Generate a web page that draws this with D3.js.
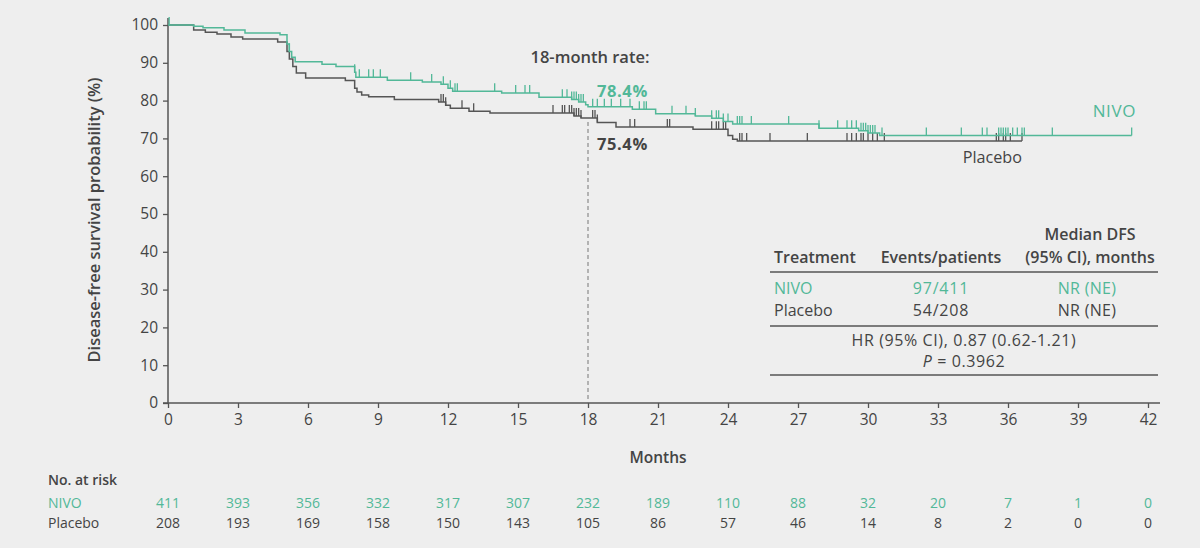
<!DOCTYPE html>
<html>
<head>
<meta charset="utf-8">
<script src="https://cdn.jsdelivr.net/npm/d3@7"></script>
<style>
  html, body { margin: 0; padding: 0; background: #eeeeee; }
  svg { display: block; font-family: "Open Sans", "DejaVu Sans", sans-serif; }
</style>
</head>
<body>
<svg id="chart" width="1200" height="548"></svg>
<script>
// ---------- data ----------
const xTicks = [0, 3, 6, 9, 12, 15, 18, 21, 24, 27, 30, 33, 36, 39, 42];
const yTicks = [0, 10, 20, 30, 40, 50, 60, 70, 80, 90, 100];

const nivoTimes = [0, 1.1, 1.5, 2.4, 3.3, 4.8, 5.1, 5.2, 5.3, 5.45, 6.6, 7.2, 8.0, 8.05, 9.4, 10.9, 11.7, 12.0, 12.2, 14.3, 15.9, 17.3, 17.6, 17.9, 18.0, 19.9, 20.9, 22.6, 23.3, 23.8, 24.2, 27.9, 29.6, 30.0, 30.5];
const nivoSurv  = [100, 99.7, 99.3, 98.7, 97.9, 97.4, 95, 93, 91.5, 90.3, 89.6, 89.0, 87.5, 86.2, 85.4, 84.9, 84.3, 83.3, 82.5, 82.0, 80.9, 80.3, 79.6, 78.9, 78.4, 77.7, 76.5, 75.9, 75.3, 74.5, 73.8, 72.7, 72.0, 71.4, 70.8];
const nivoEnd = 41.3;
const nivoCensor = [0.05, 5.2, 8.0, 8.2, 8.6, 8.8, 9.1, 10.4, 11.3, 11.8, 12.1, 12.3, 12.4, 14.0, 14.9, 15.3, 15.5, 16.9, 17.1, 17.3, 17.4, 17.5, 17.6, 17.7, 17.8, 18.2, 18.4, 18.7, 19.0, 19.4, 19.8, 20.2, 20.4, 20.5, 21.6, 22.2, 22.6, 23.3, 23.5, 23.6, 23.8, 24.0, 24.4, 24.5, 24.6, 25.0, 26.6, 27.9, 28.7, 29.1, 29.3, 29.5, 29.7, 29.8, 29.9, 30.0, 30.1, 30.2, 30.3, 30.6, 32.5, 34.0, 34.9, 35.1, 35.6, 35.7, 35.8, 35.9, 36.0, 36.2, 36.4, 36.6, 36.7, 37.9, 41.3];

const placTimes = [0, 1.1, 1.6, 2.1, 2.7, 3.2, 4.7, 5.1, 5.2, 5.35, 5.5, 5.9, 7.6, 8.0, 8.1, 8.3, 8.6, 9.7, 11.6, 11.9, 12.1, 12.9, 13.8, 17.4, 17.7, 18.4, 19.2, 22.5, 24.0, 24.2, 24.4];
const placSurv  = [100, 98.7, 98.1, 97.6, 96.8, 96.3, 95.5, 93, 91, 89, 87.3, 86.0, 85.3, 83.3, 82.3, 81.5, 81.0, 80.3, 79.6, 78.8, 78.0, 77.2, 76.7, 75.9, 75.4, 74.2, 73.0, 72.4, 70.8, 69.8, 69.3];
const placEnd = 36.6;
const placCensor = [11.7, 11.8, 11.9, 12.6, 13.1, 16.5, 16.9, 17.0, 17.2, 17.3, 17.4, 17.5, 17.6, 17.7, 18.2, 18.3, 18.4, 19.8, 20.0, 21.4, 21.5, 23.3, 23.5, 23.6, 23.8, 23.9, 24.5, 24.6, 24.8, 25.8, 27.4, 29.1, 29.3, 29.5, 29.7, 29.8, 30.0, 30.2, 30.4, 30.7, 35.5, 35.6, 35.8, 35.9, 36.1, 36.6];

const riskNivo = [411, 393, 356, 332, 317, 307, 232, 189, 110, 88, 32, 20, 7, 1, 0];
const riskPlac = [208, 193, 169, 158, 150, 143, 105, 86, 57, 46, 14, 8, 2, 0, 0];

const rate18 = { nivo: "78.4%", plac: "75.4%", month: 18, placVal: 75.4 };

const tableHeader = ["Treatment", "Events/patients", "Median DFS", "(95% CI), months"];
const tableRows = [["NIVO", "97/411", "NR (NE)"], ["Placebo", "54/208", "NR (NE)"]];
const hrText = "HR (95% CI), 0.87 (0.62-1.21)";
const pText = "0.3962";

// ---------- style ----------
const TEAL = "#52b898";
const GREY = "#555555";
const TXT = "#444444";

const svg = d3.select("#chart");
const x = d3.scaleLinear().domain([0, 42]).range([168, 1148]);
const y = d3.scaleLinear().domain([0, 100]).range([403, 25]);

// axes
const yAxis = d3.axisLeft(y).tickValues(yTicks).tickSize(5).tickSizeOuter(0).tickPadding(5);
const gy = svg.append("g").attr("transform", `translate(${x(0)},0)`).call(yAxis);
gy.select(".domain").remove();
gy.selectAll("line").attr("stroke", GREY).attr("stroke-width", 1.3);
gy.selectAll("text").attr("fill", TXT).style("font-size", "15.5px").style("font-family", "Open Sans");

const xAxis = d3.axisBottom(x).tickValues(xTicks).tickSize(5).tickSizeOuter(0).tickPadding(6);
const gx = svg.append("g").attr("transform", `translate(0,${y(0)})`).call(xAxis);
gx.select(".domain").remove();
gx.selectAll("line").attr("stroke", GREY).attr("stroke-width", 1.3);
gx.selectAll("text").attr("fill", TXT).style("font-size", "15.5px").style("font-family", "Open Sans");

svg.append("line").attr("x1", x(0)).attr("x2", x(0)).attr("y1", y(0)).attr("y2", 18)
  .attr("stroke", GREY).attr("stroke-width", 1.5);
svg.append("line").attr("x1", x(0) - 5).attr("x2", 1160).attr("y1", y(0)).attr("y2", y(0))
  .attr("stroke", GREY).attr("stroke-width", 1.5);

// axis titles
svg.append("text").attr("x", (x(0) + x(42)) / 2).attr("y", 463).attr("text-anchor", "middle")
  .attr("fill", TXT).style("font-size", "15.5px").style("font-weight", "600").text("Months");
svg.append("text").attr("transform", `translate(100,${(y(0) + y(100)) / 2 + 6}) rotate(-90)`)
  .attr("text-anchor", "middle").attr("fill", TXT).style("font-size", "16.5px").style("font-weight", "600")
  .text("Disease-free survival probability (%)");

// 18-month dashed line
svg.append("line").attr("x1", x(rate18.month)).attr("x2", x(rate18.month))
  .attr("y1", y(rate18.placVal) + 4).attr("y2", y(0))
  .attr("stroke", "#777").attr("stroke-width", 1).attr("stroke-dasharray", "4,3");

// KM curves
function stepPoints(times, surv, end) {
  const pts = times.map((t, i) => [t, surv[i]]);
  pts.push([end, surv[surv.length - 1]]);
  return pts;
}
function survAt(times, surv, t) {
  let s = surv[0];
  for (let i = 0; i < times.length; i++) { if (times[i] <= t) s = surv[i]; }
  return s;
}
const line = d3.line().x(d => x(d[0])).y(d => y(d[1])).curve(d3.curveStepAfter);

function drawCurve(times, surv, end, censor, color) {
  svg.append("path").datum(stepPoints(times, surv, end)).attr("d", line)
    .attr("fill", "none").attr("stroke", color).attr("stroke-width", 1.5);
  svg.append("g").selectAll("line").data(censor).join("line")
    .attr("x1", d => x(d)).attr("x2", d => x(d))
    .attr("y1", d => y(survAt(times, surv, d)))
    .attr("y2", d => y(survAt(times, surv, d)) - 8)
    .attr("stroke", color).attr("stroke-width", 1.3);
}
drawCurve(placTimes, placSurv, placEnd, placCensor, GREY);
drawCurve(nivoTimes, nivoSurv, nivoEnd, nivoCensor, TEAL);

// annotations
svg.append("text").attr("x", 590).attr("y", 63).attr("text-anchor", "middle").attr("fill", TXT)
  .style("font-size", "16.5px").style("font-weight", "600").text("18-month rate:");
svg.append("text").attr("x", 597).attr("y", 97).attr("fill", TEAL)
  .style("font-size", "16.5px").style("font-weight", "700").style("letter-spacing", "0.6px").text(rate18.nivo);
svg.append("text").attr("x", 597).attr("y", 150).attr("fill", TXT)
  .style("font-size", "16.5px").style("font-weight", "700").style("letter-spacing", "0.6px").text(rate18.plac);
svg.append("text").attr("x", 1136).attr("y", 117).attr("text-anchor", "end").attr("fill", TEAL)
  .style("font-size", "17px").style("letter-spacing", "0.6px").text("NIVO");
svg.append("text").attr("x", 1022).attr("y", 163).attr("text-anchor", "end").attr("fill", TXT)
  .style("font-size", "16.2px").text("Placebo");

// results table
const tb = svg.append("g").style("font-size", "16px");
const c1 = 774, c2 = 941, c3 = 1090;
tb.append("text").attr("x", c3).attr("y", 240).attr("text-anchor", "middle").attr("fill", TXT).style("font-weight", "600").text(tableHeader[2]);
tb.append("text").attr("x", c1).attr("y", 263).attr("fill", TXT).style("font-weight", "600").text(tableHeader[0]);
tb.append("text").attr("x", c2).attr("y", 263).attr("text-anchor", "middle").attr("fill", TXT).style("font-weight", "600").text(tableHeader[1]);
tb.append("text").attr("x", c3).attr("y", 263).attr("text-anchor", "middle").attr("fill", TXT).style("font-weight", "600").text(tableHeader[3]);
[272, 326, 375].forEach(yy => tb.append("line").attr("x1", 770).attr("x2", 1158).attr("y1", yy).attr("y2", yy)
  .attr("stroke", GREY).attr("stroke-width", 1.5));
tableRows.forEach((r, i) => {
  const col = i === 0 ? TEAL : TXT;
  const yy = 294 + i * 22;
  tb.append("text").attr("x", c1).attr("y", yy).attr("fill", col).text(r[0]);
  tb.append("text").attr("x", c2).attr("y", yy).attr("text-anchor", "middle").attr("fill", col).style("letter-spacing", "0.8px").text(r[1]);
  tb.append("text").attr("x", c3 - 3).attr("y", yy).attr("text-anchor", "middle").attr("fill", col).style("letter-spacing", "0.3px").text(r[2]);
});
tb.append("text").attr("x", 964).attr("y", 346).attr("text-anchor", "middle").attr("fill", TXT)
  .style("letter-spacing", "0.6px").text(hrText);
const pt = tb.append("text").attr("x", 964).attr("y", 367).attr("text-anchor", "middle").attr("fill", TXT)
  .style("letter-spacing", "0.6px");
pt.append("tspan").style("font-style", "italic").text("P");
pt.append("tspan").text(" = " + pText);

// number at risk
const rk = svg.append("g").style("font-size", "14px");
rk.append("text").attr("x", 48).attr("y", 485).attr("fill", TXT).style("font-weight", "600").text("No. at risk");
rk.append("text").attr("x", 48).attr("y", 508).attr("fill", TEAL).text("NIVO");
rk.append("text").attr("x", 48).attr("y", 528).attr("fill", TXT).text("Placebo");
rk.append("g").selectAll("text").data(riskNivo).join("text")
  .attr("x", (d, i) => x(xTicks[i])).attr("y", 508).attr("text-anchor", "middle").attr("fill", TEAL).text(d => d);
rk.append("g").selectAll("text").data(riskPlac).join("text")
  .attr("x", (d, i) => x(xTicks[i])).attr("y", 528).attr("text-anchor", "middle").attr("fill", TXT).text(d => d);
</script>
</body>
</html>
